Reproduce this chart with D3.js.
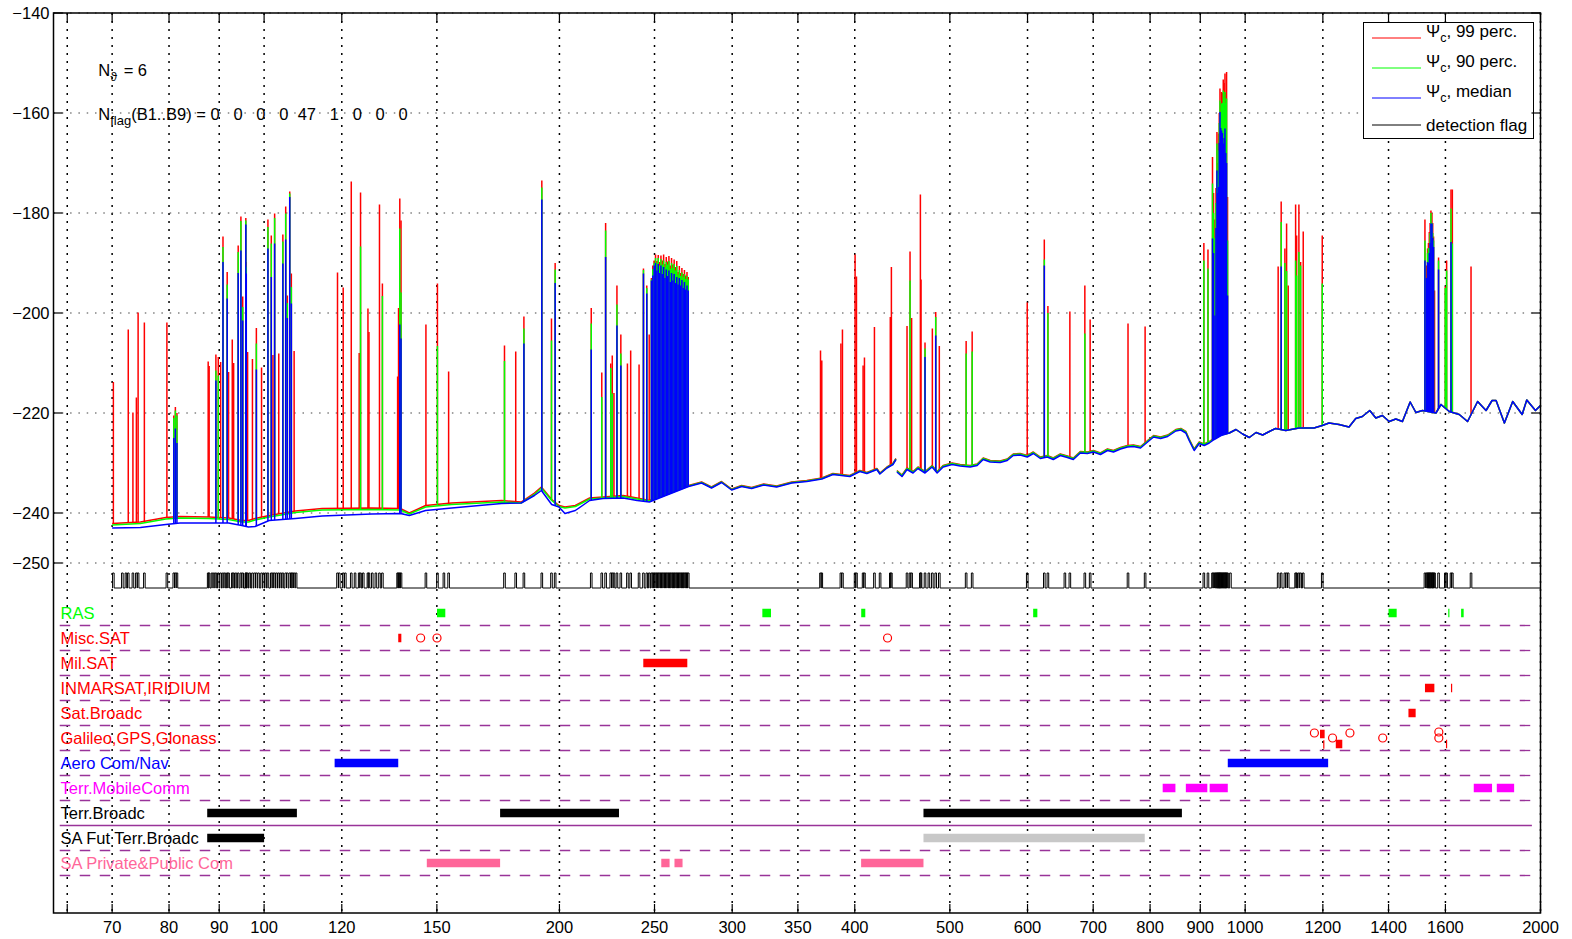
<!DOCTYPE html>
<html>
<head>
<meta charset="utf-8">
<script src="https://cdn.jsdelivr.net/npm/d3@7"></script>
<style>
html, body { margin: 0; padding: 0; background: #fff; }
svg { display: block; font-family: "Liberation Sans", Arial, Helvetica, sans-serif; }
</style>
</head>
<body>
<svg id="chart" width="1572" height="939"></svg>
<script>
// ---------- axis ticks ----------
const freqTicks = [63, 70, 80, 90, 100, 120, 150, 200, 250, 300, 350, 400, 500, 600, 700, 800, 900, 1000, 1200, 1400, 1600, 2000];
const freqTickLabels = ["", "70", "80", "90", "100", "120", "150", "200", "250", "300", "350", "400", "500", "600", "700", "800", "900", "1000", "1200", "1400", "1600", "2000"];
const levelTicks = [-140, -160, -180, -200, -220, -240, -250];
const levelTickLabels = ["\u2212140", "\u2212160", "\u2212180", "\u2212200", "\u2212220", "\u2212240", "\u2212250"];

// ---------- noise floor: [MHz, 99 perc., 90 perc., median] (dB) ----------
const floorVhf = [
  [70.0,-242.1,-242.4,-243.0],[74.8,-241.8,-242.1,-242.9],[79.4,-240.9,-241.2,-242.3],[82.1,-240.7,-241.0,-242.0],
  [87.8,-240.8,-241.1,-242.0],[92.0,-241.0,-241.3,-242.0],[94.9,-241.5,-241.8,-242.5],[96.4,-241.5,-241.8,-242.8],
  [97.9,-241.1,-241.4,-242.7],[101.2,-240.5,-240.8,-241.5],[107.6,-239.6,-239.9,-241.1],[114.6,-239.1,-239.4,-240.6],
  [128.7,-239.0,-239.3,-240.2],[137.7,-239.1,-239.4,-240.1],[140.6,-240.0,-240.2,-240.5],[146.1,-238.5,-238.8,-239.5],
  [155.3,-238.0,-238.3,-239.0],[174.6,-237.5,-237.8,-238.1],[182.8,-237.8,-238.0,-238.0],[188.6,-236.0,-236.3,-236.5],
  [191.7,-234.8,-235.0,-235.5],[196.4,-237.3,-237.5,-238.3],[199.8,-238.5,-238.7,-238.8],[202.6,-238.8,-239.0,-240.1],
  [207.6,-238.5,-238.7,-239.5],[214.7,-237.0,-237.2,-237.5],[221.5,-236.8,-237.0,-237.1],[232.3,-236.5,-236.7,-237.0],
  [240.0,-237.0,-237.2,-237.5],[247.0,-237.5,-237.6,-237.8],[253.6,-236.6,-236.8,-236.9],[270.8,-234.5,-234.6,-234.7],
  [279.2,-233.8,-233.9,-234.0],[285.8,-234.8,-234.9,-235.0],[292.6,-233.7,-233.8,-233.9],[299.6,-235.2,-235.3,-235.4],
  [306.7,-234.5,-234.6,-234.7],[314.0,-234.9,-235.0,-235.1],[323.0,-234.2,-234.3,-234.4],[333.0,-234.6,-234.7,-234.8],
  [345.0,-233.8,-233.9,-234.0],[357.4,-233.5,-233.6,-233.7],[370.2,-233.0,-233.1,-233.2],[380.0,-232.1,-232.2,-232.3],
  [395.4,-232.5,-232.6,-232.7],[404.8,-231.5,-231.6,-231.7],[411.5,-231.9,-232.0,-232.1],[421.3,-231.1,-231.2,-231.3],
  [424.3,-232.0,-232.1,-232.2],[431.4,-230.8,-230.9,-231.0],[437.5,-230.1,-230.2,-230.3],[440.6,-229.1,-229.2,-229.3],
  [441.1,null,null,null]
];
const floorUhf = [
  [441.6,-231.5,-231.6,-231.8],[446.9,-232.4,-232.5,-232.7],[452.2,-231.0,-231.1,-231.3],[458.6,-231.7,-231.8,-232.0],
  [464.0,-230.8,-230.9,-231.1],[471.7,-231.7,-231.8,-232.0],[479.6,-230.5,-230.6,-230.8],[485.3,-231.7,-231.8,-232.0],
  [492.2,-230.5,-230.6,-230.8],[502.7,-230.0,-230.1,-230.3],[512.2,-230.3,-230.4,-230.6],[524.4,-230.5,-230.6,-230.8],
  [533.1,-230.2,-230.3,-230.5],[540.7,-229.0,-229.1,-229.3],[549.7,-229.5,-229.6,-229.8],[562.7,-229.6,-229.7,-229.9],
  [572.1,-229.2,-229.3,-229.5],[580.2,-228.2,-228.3,-228.5],[589.8,-228.1,-228.2,-228.4],[599.6,-228.5,-228.6,-228.8],
  [608.2,-227.8,-227.9,-228.1],[618.3,-228.8,-228.9,-229.1],[628.5,-228.5,-228.6,-228.8],[637.4,-229.0,-229.1,-229.3],
  [648.0,-228.2,-228.3,-228.5],[658.8,-228.6,-228.7,-228.9],[668.1,-229.0,-229.1,-229.3],[679.2,-227.7,-227.8,-228.0],
  [690.5,-227.8,-227.9,-228.1],[700.4,-227.5,-227.6,-227.8],[712.0,-228.0,-228.1,-228.3],[723.8,-227.2,-227.3,-227.5],
  [734.1,-227.5,-227.6,-227.8],[746.3,-226.9,-227.0,-227.2],[758.6,-226.5,-226.6,-226.8],[769.4,-226.4,-226.5,-226.7],
  [782.2,-226.7,-226.8,-227.0],[795.3,-225.5,-225.6,-225.8],[806.6,-224.5,-224.6,-224.8],[820.0,-224.8,-224.9,-225.1],
  [833.6,-224.4,-224.5,-224.7],[849.8,-223.3,-223.4,-223.6],[859.9,-223.1,-223.2,-223.4],[870.0,-223.7,-223.8,-224.0],
  [876.8,-225.2,-225.3,-225.5],[887.2,-227.2,-227.3,-227.5],[897.7,-225.8,-225.9,-226.1],[908.3,-226.2,-226.3,-226.5],
  [919.1,-225.7,-225.8,-226.0],[930.0,-225.0,-225.1,-225.3],[945.0,-224.3,-224.4,-224.5]
];
const floorL = [
  [963.4,-224.0,-224.0,-224.0],[978.7,-223.3,-223.3,-223.3],[994.0,-224.2,-224.2,-224.2],[1009.8,-224.9,-224.9,-224.9],
  [1025.8,-223.9,-223.9,-223.9],[1041.9,-224.4,-224.4,-224.4],[1058.4,-223.7,-223.7,-223.7],[1074,-223.1,-223.1,-223.1],
  [1100,-223.5,-223.5,-223.5],[1134.4,-223.0,-223.0,-223.0],[1175.2,-223.0,-223.0,-223.0],[1198.3,-222.5,-222.5,-222.5],
  [1217.4,-222.0,-222.0,-222.0],[1246.3,-222.3,-222.3,-222.3],[1276.0,-222.8,-222.8,-222.8],[1296.3,-221.1,-221.1,-221.1],
  [1316.6,-220.7,-220.7,-220.7],[1339.7,-219.5,-219.5,-219.5],[1358.8,-221.0,-221.0,-221.0],[1380.0,-220.5,-220.5,-220.5],
  [1402.0,-221.7,-221.7,-221.7],[1424.2,-221.2,-221.2,-221.2],[1446.5,-221.7,-221.7,-221.7],[1472.9,-217.8,-217.8,-217.8],
  [1492.9,-219.9,-219.9,-219.9],[1516.2,-219.5,-219.5,-219.5],[1564.8,-220.0,-220.0,-220.0],[1583.3,-218.3,-218.3,-218.3],
  [1614.5,-219.7,-219.7,-219.7],[1652.8,-220.3,-220.3,-220.3],[1685.4,-221.7,-221.7,-221.7],[1725.6,-217.7,-217.7,-217.7],
  [1760.0,-219.5,-219.5,-219.5],[1785.1,-217.5,-217.5,-217.5],[1802.0,-217.5,-217.5,-217.5],[1837.5,-222.0,-222.0,-222.0],
  [1873.7,-217.7,-217.7,-217.7],[1915.6,-220.3,-220.3,-220.3],[1936.6,-217.4,-217.4,-217.4],[1976.5,-219.5,-219.5,-219.5],
  [2000,-218.5,-218.5,-218.5]
];

// ---------- detected emissions: [MHz, 99 perc., 90 perc., median] peak levels (dB) ----------
const spikesLowVhf = [
  [70.2,-213.8,null,null],[72.7,-203.3,null,null],[73.5,-219.9,null,null],[74.1,-216.9,null,null],
  [74.4,-199.9,null,null],[75.5,-201.9,null,null],[79.6,-201.9,null,null],
  [80.9,-220.5,-221.0,-225.0],[81.2,-218.8,-219.5,-223.1],[81.5,-220.0,-220.5,-226.0]
];
const spikesFm = [
  [87.7,-209.7,null,null],[87.9,-210.6,null,null],[89.3,-208.3,-211.5,-213.5],[89.8,-208.8,-212.5,null],
  [90.3,-209.8,null,null],[90.8,-184.7,-186.8,-189.8],[91.7,-191.8,-194.3,-197.1],[92.0,-211.8,null,null],
  [92.8,-205.3,null,null],[93.1,-210.0,null,null],[94.1,-186.5,-187.8,-192.0],[94.7,-180.7,-181.6,-187.5],
  [95.1,-196.7,-198.8,-201.5],[95.8,-181.0,-181.5,-182.3],[95.9,-189.8,-190.8,-192.1],[96.2,-207.8,null,null],
  [97.3,-209.2,null,null],[98.2,-203.0,-206.1,-211.3],[99.4,-210.9,null,null],[100.9,-181.3,-182.8,-187.1],
  [101.7,-184.5,-186.1,-192.8],[102.1,-208.4,null,null],[102.5,-180.1,-181.0,-186.1],[103.5,-208.1,null,null],
  [104.5,-184.3,-185.7,-190.1],[105.2,-178.7,-180.1,-185.3],[105.6,-196.5,-198.0,-201.0],[106.2,-175.7,-176.1,-176.8],
  [106.6,-192.1,-194.8,-198.1],[107.3,-207.6,null,null]
];
const spikesVhf = [
  [118.8,-191.9,null,null],[120.4,-194.9,null,null],[122.7,-173.7,null,null],[125.0,-208.0,null,null],
  [125.4,-175.9,-186.7,null],[127.6,-199.1,null,null],[127.9,-203.8,null,null],[131.1,-178.3,null,null],
  [132.0,-194.1,-196.6,null],[136.8,-212.7,null,null],[137.1,-199.0,null,null],[137.5,-177.1,-183.1,-202.3],
  [137.9,-181.5,-195.9,-205.1],[146.2,-202.3,null,null],[150.2,-194.1,-206.6,null],[154.2,-211.7,null,null],
  [175.8,-206.5,-209.6,null],[180.5,-207.7,null,null],[184.0,-200.7,-203.1,-206.1],[191.9,-173.5,-174.9,-177.3],
  [196.3,-201.1,-205.5,null],[198.0,-190.0,-191.3,-194.0],[215.5,-199.0,-202.1,-207.3],[220.9,-211.9,-216.8,null],
  [222.9,-182.0,-183.5,-188.8],[225.6,-210.1,-211.0,null],[226.4,-208.5,-216.1,null],[227.3,-216.0,null,null],
  [228.9,-194.5,-198.3,-202.5],[231.0,-204.3,-208.1,-210.5],[234.6,-210.1,null,null],[236.4,-207.5,null,null],
  [241.1,-210.3,null,null],[243.6,-191.1,-191.4,-192.1],[245.5,-194.5,-195.0,-196.1],[246.9,-204.3,null,null]
];
const spikesUhfSat = [
  [248.2,-193.0,-193.3,-193.5],[249.0,-190.5,-191.2,-192.5],[249.8,-189.5,-190.0,-190.5],[250.6,-188.3,-189.0,-190.0],
  [251.4,-189.6,-190.0,-191.5],[252.2,-188.4,-189.0,-190.2],[253.0,-189.8,-190.5,-192.0],[253.8,-188.5,-189.2,-190.5],
  [254.6,-189.5,-190.3,-192.2],[255.4,-188.3,-189.5,-190.8],[256.2,-190.2,-190.8,-193.0],[257.0,-188.8,-189.8,-191.3],
  [257.8,-189.7,-190.3,-192.6],[258.6,-188.6,-189.6,-191.5],[259.4,-190.5,-191.2,-193.8],[260.2,-189.0,-190.0,-192.0],
  [261.0,-190.3,-191.0,-193.5],[261.8,-189.3,-190.2,-192.2],[262.6,-190.8,-191.5,-194.0],[263.4,-189.6,-190.6,-192.8],
  [264.2,-191.8,-192.3,-194.3],[265.0,-190.6,-191.4,-193.0],[265.8,-192.0,-192.6,-194.5],[266.6,-191.0,-191.9,-193.4],
  [267.4,-192.2,-192.8,-195.0],[268.2,-191.4,-192.2,-193.8],[269.0,-192.5,-193.2,-195.3],[269.8,-191.8,-192.6,-194.5],
  [270.6,-192.8,-193.3,-195.5]
];
const spikesUhf = [
  [369.1,-207.5,null,null],[370.2,-209.5,null,null],[387.2,-206.1,null,null],[388.6,-203.3,null,null],
  [400.3,-188.3,null,null],[401.6,-192.7,null,null],[407.9,-210.5,null,null],[409.2,-208.9,null,null],
  [418.9,-202.8,null,null],[434.8,-200.8,null,null],[435.9,-190.8,null,null],[452.2,-202.6,null,null],
  [455.4,-187.7,-193.5,null],[457.1,-201.0,null,null],[466.6,-176.3,null,null],[467.3,-193.3,null,null],
  [471.7,-205.9,-207.1,-208.8],[479.9,-203.1,null,null],[483.7,-199.8,-200.8,-204.5],[487.8,-206.6,null,null],
  [519.5,-205.6,-208.1,null],[526.9,-203.7,-207.7,null],[599.6,-197.9,null,null],[624.1,-185.3,-189.3,-190.5],
  [629.4,-198.6,-200.0,null],[662.7,-199.7,null,null],[686.4,-194.5,-204.1,null],[695.0,-201.3,null,null],
  [759.6,-202.1,null,null],[790.7,-202.7,null,null]
];
const spikesGsm = [
  [907.6,-186.0,-189.5,null],[916.4,-187.3,-191.1,null],[926.2,-168.8,-174.1,-185.1],[928.5,-176.0,-180.0,-188.0],
  [931.5,-181.3,-185.0,-200.5],[933.8,-175.0,-178.0,-183.0],[935.9,-163.8,-166.1,-171.5],[937.7,-170.0,-172.0,-176.0],
  [939.5,-164.1,-167.5,-174.8],[941.0,-160.0,-162.0,-166.0],[942.6,-155.1,-157.5,-159.8],[944.3,-158.0,-160.0,-163.0],
  [946.1,-155.8,-158.1,-163.5],[948.0,-156.0,-158.0,-164.0],[949.9,-153.3,-155.5,-166.1],[951.8,-154.0,-157.0,-165.0],
  [953.7,-152.1,-155.8,-163.1],[955.5,-156.0,-158.0,-168.0],[957.3,-151.8,-157.1,-170.0],[959.5,-176.8,-185.5,-196.5]
];
const spikesLBand = [
  [1080.5,-190.7,null,null],[1088.2,-177.7,-181.8,-190.7],[1097.7,-187.1,-190.0,null],[1102.1,-182.1,-191.6,null],
  [1106.3,-194.5,null,null],[1125.7,-178.3,-189.5,null],[1128.4,-184.5,-192.5,null],[1134.4,-178.3,-187.8,null],
  [1139.0,-189.8,-190.5,null],[1146.0,-183.7,null,null],[1198.3,-184.5,-194.1,null],
  [1524.9,-181.3,-185.5,-189.5],[1530.7,-190.5,null,-193.0],[1534.3,-187.1,-188.0,-189.8],[1537.5,-186.0,-187.0,-190.0],
  [1540.5,-183.8,-187.1,-188.0],[1543.5,-182.0,-184.0,-186.0],[1546.5,-179.5,-180.0,-182.1],[1550.2,-180.0,-182.0,-182.1],
  [1553.0,-182.0,-184.0,-185.0],[1556.1,-184.7,-185.5,-186.8],[1559.7,-195.5,null,null],[1574.4,-188.9,-189.5,-191.3],
  [1599.5,-194.7,-195.0,null],[1604.5,-189.5,-191.5,null],[1621.1,-175.3,-179.1,-185.8],[1626.2,-175.3,-186.1,null],
  [1699.1,-190.7,null,null]
];
// channels flagged by the detector without a visible peak in the percentile traces (MHz)
const flagOnlyFreqs = [71.7, 72.3, 88.5, 88.9, 91.2, 93.6, 96.7, 97.8, 98.7, 99.9, 100.4, 103.0, 104.0, 106.9, 107.8,
  119.3, 121.0, 123.8, 126.2, 128.9, 130.0, 152.5, 424.5, 476.0, 655.0, 966.0];

// ---------- frequency allocations (MHz) per service row ----------
const bandNames = ["RAS", "Misc.SAT", "Mil.SAT", "INMARSAT,IRIDIUM", "Sat.Broadc", "Galileo,GPS,Glonass",
  "Aero Com/Nav", "Terr.MobileComm", "Terr.Broadc", "SA Fut Terr.Broadc", "SA Private&Public Com"];
const allocRas = [[150.05,153],[322,328.6],[406.1,410],[608,614],[1400,1427],[1610.6,1613.8],[1660,1670]];
const allocMiscSat = [[137,138]];
const miscSatCarriers = [144.4, 150.05, 432];
const allocMilSat = [[243.5,270]];
const allocInmarsatIridium = [[1525,1559],[1621,1625]];
const allocSatBroadc = [[1467,1492]];
const gnssBands = [[1192,1205,-284.2],[1201,1203,-286.3],[1237,1256,-286.2],[1602,1605,-286.2]];
const gnssCarriers = [[1176.45,-284],[1227.6,-285],[1278.75,-284],[1381.05,-285],[1575.42,-283.8],[1575.42,-285]];
const allocAero = [[118,137],[960,1215]];
const allocTerrMobile = [[824,849],[870,915],[920,960],[1710,1785],[1805,1880]];
const allocTerrBroadc = [[87.5,108],[174,230],[470,862]];
const allocSaFutBroadc = [[87.5,100]];
const allocSaFutPlanned = [[470,790]];
const allocSaPrivate = [[146.5,174],[254,259],[262,267],[406,470]];

const annotNtheta = 6;
const flagCounts = [0, 0, 0, 0, 47, 1, 0, 0, 0];

// ---------- layout ----------
const svg = d3.select("#chart");
const P = { l: 53.5, r: 1540.5, t: 13, b: 913 };
const x = d3.scaleLog().domain([61, 2000]).range([P.l, P.r]);
const y = d3.scaleLinear().domain([-320, -140]).range([P.b, P.t]);
const FS = 16.5;
const rowLevel = i => -260 - 5 * i;
const barH = 8.5;

const defs = svg.append("defs");

// grid
const gGrid = svg.append("g");
gGrid.selectAll("line.vg").data(freqTicks).join("line").attr("class", "vg")
  .attr("x1", d => x(d)).attr("x2", d => x(d)).attr("y1", P.t).attr("y2", P.b)
  .attr("stroke", "#000").attr("stroke-width", 1.5).attr("stroke-dasharray", "2 6");
gGrid.selectAll("line.hg").data(levelTicks).join("line").attr("class", "hg")
  .attr("x1", P.l).attr("x2", P.r).attr("y1", d => y(d)).attr("y2", d => y(d))
  .attr("stroke", "#444").attr("stroke-width", 1.1).attr("stroke-dasharray", "1.5 6.8");

// row separators
const gSep = svg.append("g");
bandNames.forEach((name, i) => {
  const lv = rowLevel(i) - 2.5;
  gSep.append("line")
    .attr("x1", x(61.9)).attr("x2", x(1960)).attr("y1", y(lv)).attr("y2", y(lv))
    .attr("stroke", "#993399").attr("stroke-width", 1.3)
    .attr("stroke-dasharray", i === 8 ? null : "10.5 9.5");
});

// spectrum series
const floorRows = [...floorVhf, ...floorUhf, ...floorL];
const spikeRows = [...spikesLowVhf, ...spikesFm, ...spikesVhf, ...spikesUhfSat, ...spikesUhf, ...spikesGsm, ...spikesLBand];
const series = [
  { key: "p99", col: 1, color: "#ff0000" },
  { key: "p90", col: 2, color: "#00ff00" },
  { key: "med", col: 3, color: "#0000ff" }
];
series.forEach(s => {
  const pts = floorRows.map(r => [r[0], r[s.col]]);
  const line = d3.line().defined(d => d[1] != null).x(d => x(d[0])).y(d => y(d[1]));
  const area = d3.area().defined(d => d[1] != null).x(d => x(d[0])).y0(P.t - 5).y1(d => y(d[1]));
  defs.append("clipPath").attr("id", "above-" + s.key).append("path").attr("d", area(pts));
  const g = svg.append("g");
  g.append("path").attr("d", line(pts)).attr("fill", "none")
    .attr("stroke", s.color).attr("stroke-width", 1.5).attr("stroke-linejoin", "round");
  const peaks = spikeRows.filter(r => r[s.col] != null).map(r => [r[0], r[s.col]]);
  g.append("g").attr("clip-path", `url(#above-${s.key})`)
    .selectAll("line").data(peaks).join("line")
    .attr("x1", d => x(d[0])).attr("x2", d => x(d[0]))
    .attr("y1", d => y(d[1])).attr("y2", y(-250))
    .attr("stroke", s.color).attr("stroke-width", 1.5);
});

// detection flag trace
const flagLow = -255, flagHigh = -252;
const flagFreqs = [...spikeRows.map(r => r[0]), ...flagOnlyFreqs].sort((a, b) => a - b);
let fp = `M${x(70)},${y(flagLow)}`;
flagFreqs.forEach(f => {
  const cx = x(f);
  fp += `L${cx - 0.8},${y(flagLow)}L${cx - 0.8},${y(flagHigh)}L${cx + 0.8},${y(flagHigh)}L${cx + 0.8},${y(flagLow)}`;
});
fp += `L${x(2000)},${y(flagLow)}`;
svg.append("path").attr("d", fp).attr("fill", "none").attr("stroke", "#000").attr("stroke-width", 1);

// service rows: labels
const rowColors = ["#00ff00", "#ff0000", "#ff0000", "#ff0000", "#ff0000", "#ff0000",
  "#0000ff", "#ff00ff", "#000000", "#000000", "#ff6699"];
svg.append("g").selectAll("text").data(bandNames).join("text")
  .attr("x", 60.5).attr("y", (d, i) => y(rowLevel(i))).attr("dy", "0.35em")
  .attr("font-size", FS).attr("fill", (d, i) => rowColors[i]).text(d => d);

// service rows: allocation bars
const gBars = svg.append("g");
function bars(list, row, color) {
  list.forEach(b => {
    const lv = b.length > 2 ? b[2] : rowLevel(row);
    gBars.append("rect")
      .attr("x", x(b[0])).attr("width", Math.max(1.2, x(b[1]) - x(b[0])))
      .attr("y", y(lv) - barH / 2).attr("height", barH).attr("fill", color);
  });
}
function rings(list, color) {
  list.forEach(c => {
    gBars.append("circle").attr("cx", x(c[0])).attr("cy", y(c[1])).attr("r", 4)
      .attr("fill", "none").attr("stroke", color).attr("stroke-width", 1.2);
  });
}
bars(allocRas, 0, "#00ff00");
bars(allocMiscSat, 1, "#ff0000");
rings(miscSatCarriers.map(f => [f, rowLevel(1)]), "#ff0000");
bars(allocMilSat, 2, "#ff0000");
bars(allocInmarsatIridium, 3, "#ff0000");
bars(allocSatBroadc, 4, "#ff0000");
bars(gnssBands, 5, "#ff0000");
rings(gnssCarriers, "#ff0000");
bars(allocAero, 6, "#0000ff");
bars(allocTerrMobile, 7, "#ff00ff");
bars(allocTerrBroadc, 8, "#000000");
bars(allocSaFutBroadc, 9, "#000000");
bars(allocSaFutPlanned, 9, "#c8c8c8");
bars(allocSaPrivate, 10, "#ff6699");

// annotations
const t1 = svg.append("text").attr("x", 98.3).attr("y", 76).attr("font-size", FS).style("white-space", "pre");
t1.append("tspan").text("N");
t1.append("tspan").attr("font-size", 12.5).attr("dy", 5).text("\u03d1");
t1.append("tspan").attr("dy", -5).attr("dx", 2).text(" = " + annotNtheta);

const t2 = svg.append("text").attr("x", 98.3).attr("y", 120).attr("font-size", FS).style("white-space", "pre");
t2.append("tspan").text("N");
t2.append("tspan").attr("font-size", 13).attr("dy", 5).text("flag");
t2.append("tspan").attr("dy", -5).text("(B1..B9) = " + flagCounts.map((v, i) => i === 0 ? String(v) : String(v).padStart(4, " ")).join(""));

// legend
const lg = svg.append("g");
lg.append("rect").attr("x", 1363.5).attr("y", 22.5).attr("width", 170).attr("height", 116)
  .attr("fill", "#fff").attr("stroke", "#000").attr("stroke-width", 1);
const legendItems = [
  { psi: true, label: ", 99 perc.", color: "#ff0000", ly: 38, ty: 37 },
  { psi: true, label: ", 90 perc.", color: "#00ff00", ly: 68, ty: 67 },
  { psi: true, label: ", median", color: "#0000ff", ly: 98, ty: 97 },
  { psi: false, label: "detection flag", color: "#000000", ly: 125, ty: 130.5 }
];
legendItems.forEach(it => {
  lg.append("line").attr("x1", 1372).attr("x2", 1421).attr("y1", it.ly).attr("y2", it.ly)
    .attr("stroke", it.color).attr("stroke-width", 1);
  const t = lg.append("text").attr("x", 1426).attr("y", it.ty).attr("font-size", 17);
  if (it.psi) {
    t.append("tspan").text("\u03a8");
    t.append("tspan").attr("font-size", 12.5).attr("dy", 5).text("c");
    t.append("tspan").attr("dy", -5).text(it.label);
  } else {
    t.text(it.label);
  }
});

// axes box and ticks
const gAx = svg.append("g");
gAx.append("rect").attr("x", P.l).attr("y", P.t).attr("width", P.r - P.l).attr("height", P.b - P.t)
  .attr("fill", "none").attr("stroke", "#000").attr("stroke-width", 1.5);
const tk = 9;
freqTicks.forEach(f => {
  gAx.append("line").attr("x1", x(f)).attr("x2", x(f)).attr("y1", P.b).attr("y2", P.b - tk).attr("stroke", "#000").attr("stroke-width", 1.2);
  gAx.append("line").attr("x1", x(f)).attr("x2", x(f)).attr("y1", P.t).attr("y2", P.t + tk).attr("stroke", "#000").attr("stroke-width", 1.2);
});
levelTicks.forEach(v => {
  gAx.append("line").attr("x1", P.l).attr("x2", P.l + tk).attr("y1", y(v)).attr("y2", y(v)).attr("stroke", "#000").attr("stroke-width", 1.2);
  gAx.append("line").attr("x1", P.r).attr("x2", P.r - tk).attr("y1", y(v)).attr("y2", y(v)).attr("stroke", "#000").attr("stroke-width", 1.2);
});
gAx.selectAll("text.xl").data(freqTicks).join("text").attr("class", "xl")
  .attr("x", d => x(d)).attr("y", 933).attr("text-anchor", "middle").attr("font-size", FS)
  .text((d, i) => freqTickLabels[i]);
gAx.selectAll("text.yl").data(levelTicks).join("text").attr("class", "yl")
  .attr("x", 49.5).attr("y", d => y(d)).attr("dy", "0.35em").attr("text-anchor", "end").attr("font-size", FS)
  .text((d, i) => levelTickLabels[i]);
</script>
</body>
</html>
